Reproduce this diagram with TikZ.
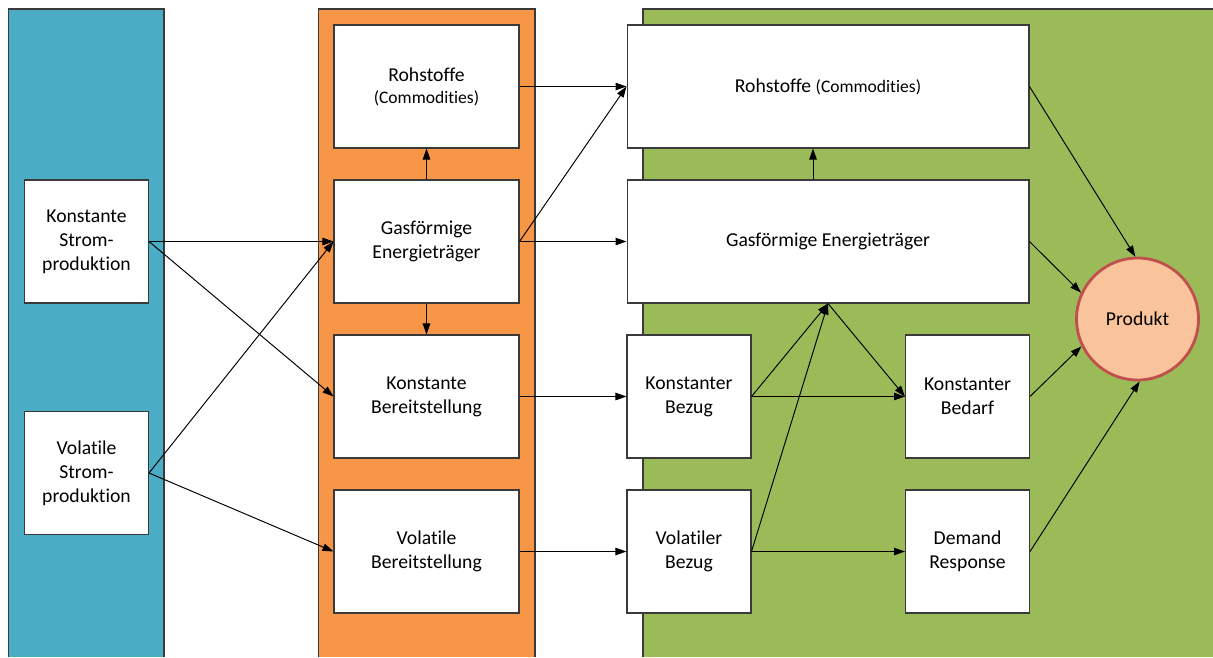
\documentclass[tikz,border=0pt]{standalone}
\usepackage{fontspec}
\setmainfont{Carlito}[Ligatures=NoCommon]
\usetikzlibrary{arrows.meta}
\definecolor{colblue}{HTML}{4BACC6}
\definecolor{colorange}{HTML}{F79646}
\definecolor{colgreen}{HTML}{9BBB59}
\definecolor{prodfill}{HTML}{F9C39B}
\definecolor{prodline}{HTML}{C0504D}
\definecolor{boxline}{HTML}{3A3A3A}
\newcommand{\comm}[1]{{\fontsize{10}{12}\selectfont #1}}
\tikzset{
	stage/.style={draw=boxline, line width=0.6pt, fill=white, align=center, inner sep=0pt, minimum height=2.46cm},
	narrow stage/.style={stage, minimum width=2.48cm},
	mid stage/.style={stage, minimum width=3.7cm},
	wide stage/.style={stage, minimum width=8.04cm},
	column/.style={draw=boxline, line width=0.6pt},
	flow/.style={line width=0.55pt, -{Triangle[length=2.2mm,width=1.5mm]}},
}

\begin{document}
\begin{tikzpicture}[x=0.02cm, y=-0.02cm, font=\fontsize{11.2}{13.6}\selectfont]
	\useasboundingbox (0,0) rectangle (1213,657);
	% three columns in the background
	\fill[colblue] (8.5,9) rectangle (164,657);
	\draw[column] (8.5,657) |- (164,9) -- (164,657);
	\fill[colorange] (318.5,9) rectangle (535,657);
	\draw[column] (318.5,657) |- (535,9) -- (535,657);
	\fill[colgreen] (643,9) rectangle (1213,657);
	\draw[column] (643,657) |- (1213,9);

	\node[narrow stage] (ks) at (86.5,241.5) {Konstante\\Strom-\\produktion};
	\node[narrow stage] (vs) at (86.5,473) {Volatile\\Strom-\\produktion};

	\node[mid stage] (rohO) at (426.5,86.5) {Rohstoffe\\[-1.2pt]\comm{(Commodities)}};
	\node[mid stage] (gasO) at (426.5,241.5) {Gasförmige\\Energieträger};
	\node[mid stage] (kbO) at (426.5,396.5) {Konstante\\Bereitstellung};
	\node[mid stage] (vbO) at (426.5,551.5) {Volatile\\Bereitstellung};

	\node[wide stage] (rohG) at (828,86.5) {Rohstoffe \comm{(Commodities)}};
	\node[wide stage] (gasG) at (828,241.5) {Gasförmige Energieträger};
	\node[narrow stage] (kbz) at (689,396.5) {Konstanter\\Bezug};
	\node[narrow stage] (vbz) at (689,551.5) {Volatiler\\Bezug};
	\node[narrow stage] (kbd) at (967.5,396.5) {Konstanter\\Bedarf};
	\node[narrow stage] (dr) at (967.5,551.5) {Demand\\Response};

	\node[circle, draw=prodline, line width=1.6pt, fill=prodfill, minimum size=2.44cm, inner sep=0pt] (prod) at (1137.5,319) {Produkt};

	% production to supply
	\draw[flow] (ks.east) -- (gasO.west);
	\draw[flow] (ks.east) -- (kbO.west);
	\draw[flow] (vs.east) -- (gasO.west);
	\draw[flow] (vs.east) -- (vbO.west);
	\draw[flow] (gasO.north) -- (rohO.south);
	\draw[flow] (gasO.south) -- (kbO.north);

	% supply to consumption
	\draw[flow] (rohO.east) -- (rohG.west);
	\draw[flow] (gasO.east) -- (rohG.west);
	\draw[flow] (gasO.east) -- (gasG.west);
	\draw[flow] (kbO.east) -- (kbz.west);
	\draw[flow] (vbO.east) -- (vbz.west);

	\draw[flow] ([xshift=-0.3cm]gasG.north) -- ([xshift=-0.3cm]rohG.south);
	\draw[flow] (kbz.east) -- (gasG.south);
	\draw[flow] (vbz.east) -- (gasG.south);
	\draw[flow] (gasG.south) -- (kbd.west);
	\draw[flow] (kbz.east) -- (kbd.west);
	\draw[flow] (vbz.east) -- (dr.west);

	% into the product
	\draw[flow] (rohG.east) -- (prod.92);
	\draw[flow] (gasG.east) -- (prod.155);
	\draw[flow] (kbd.east) -- (prod.206);
	\draw[flow] (dr.east) -- (prod.272);
\end{tikzpicture}
\end{document}
